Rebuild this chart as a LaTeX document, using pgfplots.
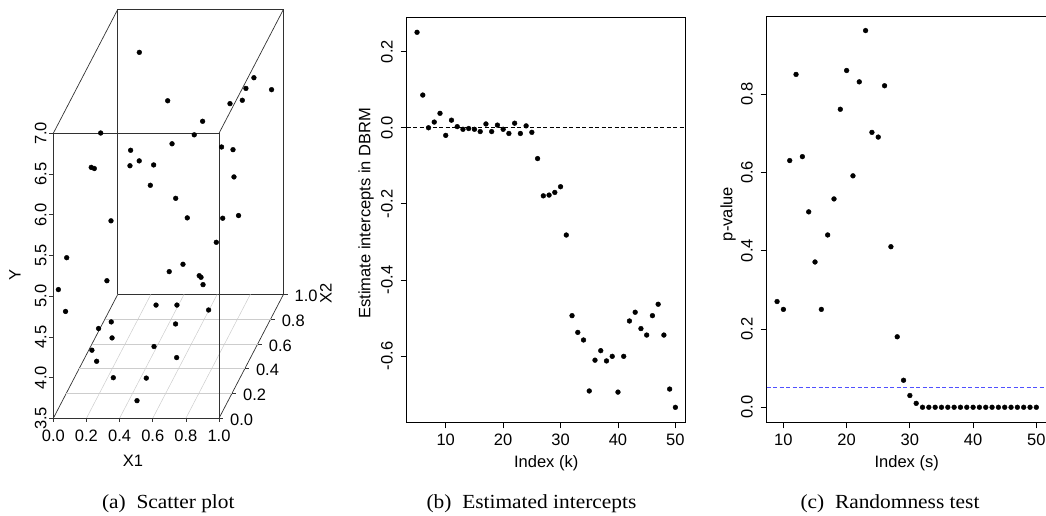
\documentclass[border=0pt]{standalone}
\usepackage{pgfplots}
\pgfplotsset{compat=1.18}
\usepackage{fontspec}
\setmainfont{Liberation Sans}
\newfontfamily\capfont{Liberation Serif}
\usetikzlibrary{calc}
\definecolor{pblue}{RGB}{70,70,255}
\definecolor{gridgray}{RGB}{205,205,205}
\definecolor{boxgray}{RGB}{50,50,50}
\newcommand{\af}{\fontsize{16.5}{19}\selectfont}
\newcommand{\cf}{\capfont\fontsize{20}{24}\selectfont}

\pgfplotsset{
  rstyle/.style={
    scale only axis,
    tick align=outside, tick pos=left,
    major tick length=6pt,
    tick style={black, line width=0.8pt},
    axis line style={black, line width=0.8pt},
    tick label style={font=\af},
    label style={font=\af},
    xticklabel style={anchor=north, inner sep=0pt, yshift=-5pt},
    yticklabel style={xshift=-7.7pt, rotate=90, anchor=south, inner sep=0pt},
    clip=false,
  },
}

\begin{document}
\begin{tikzpicture}
\useasboundingbox (0pt,0pt) rectangle (1046pt,515pt);

% ---------------- Panel (a): 3D scatter ----------------
\begin{axis}[
  at={(53.3pt,96.7pt)}, anchor=south west,
  x={(165.7pt,0pt)}, y={(64.5pt,124pt)}, z={(0pt,81.43pt)},
  xmin=0,xmax=1,ymin=0,ymax=1,zmin=3.5,zmax=7,
  3d box=complete,
  xtick=\empty, ytick=\empty, ztick=\empty,
  axis line style={boxgray, line width=0.7pt},
  clip=false,
]
\pgfplotsinvokeforeach{0.2,0.4,0.6,0.8}{
  \draw[gridgray, line width=0.5pt] (axis cs:0,#1,3.5) -- (axis cs:1,#1,3.5);
  \draw[gridgray, line width=0.5pt] (axis cs:#1,0,3.5) -- (axis cs:#1,1,3.5);
}
\addplot3[only marks, mark=*, mark size=2.4pt, black] coordinates {
(0.196,0.83,6.73) (0.445,0.63,6.44) (0.911,0.77,6.51) (0.886,0.71,6.47) (0.963,0.91,6.15)
(0.876,0.68,6.37) (0.825,0.62,6.42) (0.687,0.55,6.31) (0.656,0.50,6.22) (0.142,0.37,6.44)
(0.522,0.50,6.11) (0.272,0.50,6.03) (0.813,0.52,6.04) (0.847,0.61,5.87) (0.268,0.50,5.84)
(0.324,0.50,5.90) (0.411,0.50,5.85) (0.116,0.29,6.14) (0.123,0.32,6.08) (0.849,0.62,5.52)
(0.391,0.50,5.60) (0.544,0.50,5.44) (0.614,0.50,5.20) (0.816,0.53,5.15) (0.865,0.65,5.00)
(0.173,0.45,5.24) (0.789,0.50,4.90) (0.042,0.10,5.32) (0.588,0.50,4.63) (0.505,0.50,4.54)
(0.160,0.42,4.55) (0.686,0.50,4.49) (0.689,0.52,4.44) (0.709,0.50,4.38) (0.015,0.04,5.02)
(0.035,0.10,4.66) (0.441,0.46,4.19) (0.567,0.46,4.19) (0.766,0.44,4.16) (0.198,0.39,4.09)
(0.590,0.38,4.08) (0.137,0.35,4.07) (0.230,0.32,4.00) (0.495,0.29,3.94) (0.124,0.28,3.91)
(0.172,0.23,3.85) (0.651,0.24,3.88) (0.296,0.17,3.74) (0.499,0.16,3.75) (0.478,0.07,3.61)
};
\pgfplotsinvokeforeach{3.5,4.0,4.5,5.0,5.5,6.0,6.5,7.0}{
  \draw[boxgray, line width=0.6pt] (axis cs:0,0,#1) -- ++(-4pt,0pt);
  \node[rotate=90, anchor=south, inner sep=0pt, font=\af] at ([xshift=-6.6pt]axis cs:0,0,#1) {#1};
}
\pgfplotsinvokeforeach{0.0,0.2,0.4,0.6,0.8,1.0}{
  \draw[boxgray, line width=0.6pt] (axis cs:#1,0,3.5) -- ++(0pt,-4pt);
  \node[anchor=north, inner sep=0pt, font=\af] at ([yshift=-11.5pt]axis cs:#1,0,3.5) {#1};
  \draw[boxgray, line width=0.6pt] (axis cs:1,#1,3.5) -- ++(4pt,0pt);
  \node[anchor=west, inner sep=0pt, font=\af] at ([xshift=11pt,yshift=-1.5pt]axis cs:1,#1,3.5) {#1};
}
\end{axis}
\node[rotate=90, font=\af] at (15pt,240pt) {Y};
\node[font=\af] at (133pt,54pt) {X1};
\node[rotate=90, font=\af] at (325.8pt,222pt) {X2};

% ---------------- Panel (b) ----------------
\begin{axis}[rstyle,
  at={(406.7pt,92.7pt)}, anchor=south west,
  width=279pt, height=404.6pt,
  xmin=3.2, xmax=51.8, ymin=-0.7744, ymax=0.2894,
  xtick={10,20,30,40,50}, xticklabels={10,20,30,40,50},
  ytick={-0.6,-0.4,-0.2,0,0.2}, yticklabels={-0.6,-0.4,-0.2,0.0,0.2},
  xlabel={Index (k)}, ylabel={Estimate intercepts in DBRM},
  xlabel style={at={(axis description cs:0.5,-0.1006)}, anchor=center},
  ylabel style={at={(axis description cs:-0.1459,0.5166)}, anchor=center},
]
\draw[black, line width=1pt, dash pattern=on 4pt off 2.5pt] (axis cs:3.2,0) -- (axis cs:51.8,0);
\addplot[only marks, mark=*, mark size=2.4pt, black] coordinates {
(5,0.251)(6,0.086)(7,0.000)(8,0.015)(9,0.038)(10,-0.020)(11,0.020)(12,0.003)(13,-0.004)(14,-0.002)
(15,-0.004)(16,-0.010)(17,0.010)(18,-0.010)(19,0.007)(20,-0.004)(21,-0.015)(22,0.012)(23,-0.015)(24,0.005)
(25,-0.012)(26,-0.081)(27,-0.179)(28,-0.177)(29,-0.170)(30,-0.155)(31,-0.282)(32,-0.494)(33,-0.538)(34,-0.558)
(35,-0.692)(36,-0.611)(37,-0.586)(38,-0.613)(39,-0.601)(40,-0.695)(41,-0.601)(42,-0.508)(43,-0.485)(44,-0.528)
(45,-0.545)(46,-0.494)(47,-0.464)(48,-0.545)(49,-0.687)(50,-0.735)
};
\end{axis}

% ---------------- Panel (c) ----------------
\begin{axis}[rstyle,
  at={(766.7pt,92.7pt)}, anchor=south west,
  width=280pt, height=406pt,
  xmin=7.36, xmax=51.64, ymin=-0.0384, ymax=0.9984,
  xtick={10,20,30,40,50}, xticklabels={10,20,30,40,50},
  ytick={0,0.2,0.4,0.6,0.8}, yticklabels={0.0,0.2,0.4,0.6,0.8},
  xlabel={Index (s)}, ylabel={p-value},
  xlabel style={at={(axis description cs:0.5,-0.1002)}, anchor=center},
  ylabel style={at={(axis description cs:-0.1382,0.513)}, anchor=center},
]
\draw[draw={rgb,255:red,80;green,80;blue,255}, line width=1.3pt, dash pattern=on 4pt off 2.5pt] (axis cs:7.36,0.05) -- (axis cs:51.64,0.05);
\addplot[only marks, mark=*, mark size=2.4pt, black] coordinates {
(9,0.270)(10,0.250)(11,0.630)(12,0.850)(13,0.640)(14,0.499)(15,0.371)(16,0.250)(17,0.440)(18,0.532)
(19,0.761)(20,0.860)(21,0.591)(22,0.831)(23,0.962)(24,0.702)(25,0.690)(26,0.821)(27,0.410)(28,0.180)
(29,0.069)(30,0.030)(31,0.010)(32,0)(33,0)(34,0)(35,0)(36,0)(37,0)(38,0)(39,0)(40,0)(41,0)(42,0)
(43,0)(44,0)(45,0)(46,0)(47,0)(48,0)(49,0)(50,0)
};
\end{axis}

% ---------------- Captions ----------------
\node[font=\cf, xscale=1.07, anchor=base] at (168.3pt,6.3pt) {(a)\ \ Scatter plot};
\node[font=\cf, xscale=1.07, anchor=base] at (531.5pt,6.3pt) {(b)\ \ Estimated intercepts};
\node[font=\cf, xscale=1.07, anchor=base] at (890pt,6.3pt) {(c)\ \ Randomness test};
\end{tikzpicture}
\end{document}
